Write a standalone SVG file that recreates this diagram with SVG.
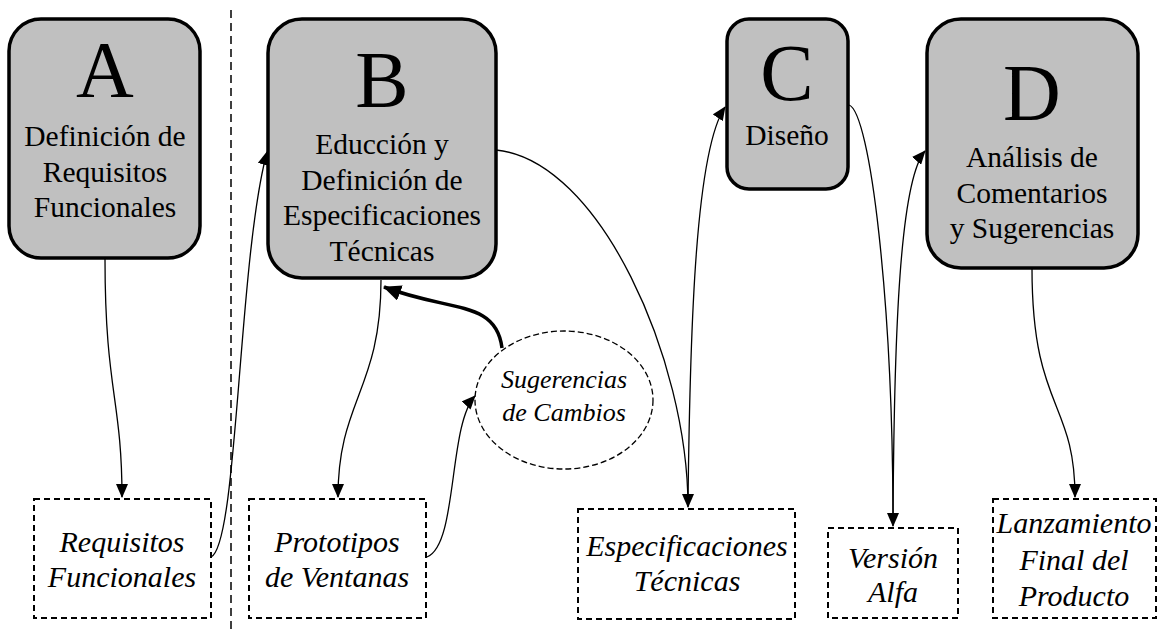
<svg xmlns="http://www.w3.org/2000/svg" width="1159" height="632" viewBox="0 0 1159 632">
<style>
.box{fill:#c0c0c0;stroke:#000;stroke-width:3.5}
.out{fill:#fff;stroke:#000;stroke-width:2;stroke-dasharray:6,4}
.big{font-family:"Liberation Serif","Times New Roman",serif;font-size:80px;text-anchor:middle;fill:#000}
.t{font-family:"Liberation Serif","Times New Roman",serif;font-size:29.5px;text-anchor:middle;fill:#000}
.i{font-family:"Liberation Serif","Times New Roman",serif;font-size:30px;font-style:italic;text-anchor:middle;fill:#000}
.c{fill:none;stroke:#000;stroke-width:1.3}
</style>
<defs>
<marker id="ah" markerUnits="userSpaceOnUse" markerWidth="14" markerHeight="12" refX="13" refY="6" orient="auto"><path d="M0,0 L14,6 L0,12 Z" fill="#000"/></marker>
<marker id="ahb" markerUnits="userSpaceOnUse" markerWidth="18" markerHeight="16" refX="17" refY="8" orient="auto"><path d="M0,0 L18,8 L0,16 Z" fill="#000"/></marker>
</defs>
<line x1="231" y1="10" x2="231" y2="632" stroke="#000" stroke-width="1.5" stroke-dasharray="8,5"/>
<g id="connectors">
<path class="c" d="M105,259 C105,390 122,400 122,497" marker-end="url(#ah)"/>
<path class="c" d="M211,557 C238,545 238,260 267,152" marker-end="url(#ah)"/>
<path class="c" d="M381,280 C381,390 338,400 338,497" marker-end="url(#ah)"/>
<path class="c" d="M427,557 C458,545 448,425 475,396" marker-end="url(#ah)"/>
<path d="M502,348 C496,300 450,312 384,287" fill="none" stroke="#000" stroke-width="3.5" marker-end="url(#ahb)"/>
<path class="c" d="M496,150 C600,160 688,360 688,507" marker-end="url(#ah)"/>
<path class="c" d="M688,505 C690,320 696,150 725,107" marker-end="url(#ah)"/>
<path class="c" d="M849,105 C870,112 893,300 893,526" marker-end="url(#ah)"/>
<path class="c" d="M893,524 C894,330 900,180 925,151" marker-end="url(#ah)"/>
<path class="c" d="M1032,268 C1032,410 1075,400 1075,497" marker-end="url(#ah)"/>
</g>
<g id="nodeA">
<rect class="box" x="9" y="19" width="191" height="239" rx="32"/>
<text class="big" x="105" y="97">A</text>
<text class="t" x="105" y="146">Definición de</text>
<text class="t" x="105" y="182">Requisitos</text>
<text class="t" x="105" y="217">Funcionales</text>
</g>
<g id="nodeB">
<rect class="box" x="268" y="19" width="228" height="259" rx="34"/>
<text class="big" x="382" y="107">B</text>
<text class="t" x="382" y="154">Educción y</text>
<text class="t" x="382" y="190">Definición de</text>
<text class="t" x="382" y="225">Especificaciones</text>
<text class="t" x="382" y="261">Técnicas</text>
</g>
<g id="nodeC">
<rect class="box" x="727" y="19" width="121" height="170" rx="22"/>
<text class="big" x="787" y="100">C</text>
<text class="t" x="787" y="145">Diseño</text>
</g>
<g id="nodeD">
<rect class="box" x="927" y="19" width="211" height="249" rx="34"/>
<text class="big" x="1032" y="120">D</text>
<text class="t" x="1032" y="167">Análisis de</text>
<text class="t" x="1032" y="203">Comentarios</text>
<text class="t" x="1032" y="238">y Sugerencias</text>
</g>
<g id="reqFunc">
<rect class="out" x="34" y="499" width="177" height="119"/>
<text class="i" x="122" y="552">Requisitos</text>
<text class="i" x="122" y="587">Funcionales</text>
</g>
<g id="prototipos">
<rect class="out" x="249" y="499" width="177" height="119"/>
<text class="i" x="337" y="552">Prototipos</text>
<text class="i" x="337" y="587">de Ventanas</text>
</g>
<g id="sugerencias">
<ellipse cx="564" cy="400" rx="89" ry="69" fill="#fff" stroke="#000" stroke-width="1.3" stroke-dasharray="6,3"/>
<text class="i" x="564" y="388" style="font-size:26px">Sugerencias</text>
<text class="i" x="564" y="421" style="font-size:26px">de Cambios</text>
</g>
<g id="especificaciones">
<rect class="out" x="578" y="509" width="217" height="110"/>
<text class="i" x="687" y="556">Especificaciones</text>
<text class="i" x="687" y="591">Técnicas</text>
</g>
<g id="version">
<rect class="out" x="828" y="528" width="130" height="90"/>
<text class="i" x="893" y="568">Versión</text>
<text class="i" x="893" y="602">Alfa</text>
</g>
<g id="lanzamiento">
<rect class="out" x="993" y="499" width="163" height="119"/>
<text class="i" x="1074" y="533">Lanzamiento</text>
<text class="i" x="1074" y="570">Final del</text>
<text class="i" x="1074" y="606">Producto</text>
</g>
</svg>
